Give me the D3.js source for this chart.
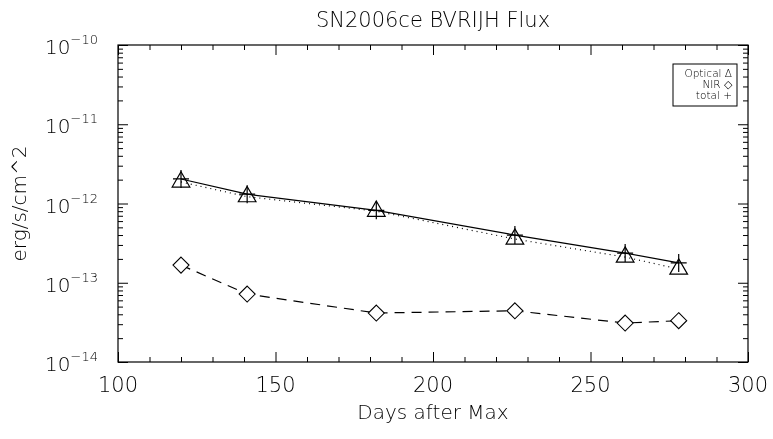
<!DOCTYPE html>
<html>
<head>
<meta charset="utf-8">
<script src="https://cdn.jsdelivr.net/npm/d3@7"></script>
<style>
  body { margin: 0; background: #fff; }
  svg { display: block; will-change: transform; }
  text { font-family: "DejaVu Sans", sans-serif; font-weight: 200; fill: #000; }
</style>
</head>
<body>
<div id="chart"></div>
<script>
// days after maximum
const days = [120, 141, 182, 226, 261, 278];
// fluxes in erg/s/cm^2
const optical = [1.87e-12, 1.22e-12, 8.0e-13, 3.56e-13, 2.11e-13, 1.49e-13];
const nir = [1.67e-13, 7.2e-14, 4.15e-14, 4.43e-14, 3.1e-14, 3.32e-14];
const total = [2.04e-12, 1.31e-12, 8.2e-13, 4.0e-13, 2.37e-13, 1.78e-13];
const xMajor = [100, 150, 200, 250, 300];
const yExponents = [-14, -13, -12, -11, -10];

const w = 773;
const h = 439;
const padL = 118, padR = 748, padT = 45, padB = 362;

const svg = d3.select('#chart').append('svg').attr('width', w).attr('height', h);

const xScale = d3.scaleLinear().domain([100, 300]).range([padL, padR]);
const yScale = d3.scaleLog().domain([1e-14, 1e-10]).range([padB, padT]);

const xMinor = d3.range(100, 301, 10).filter(d => d % 50 !== 0);
const yMinor = [];
yExponents.slice(0, -1).forEach(e => {
    for (let k = 2; k <= 9; k++) yMinor.push(k * Math.pow(10, e));
});

const axisStyle = g => {
    g.select('.domain').remove();
    g.selectAll('line').attr('stroke', '#000').attr('stroke-width', 1);
};

// x ticks, bottom and top
svg.append('g').attr('transform', 'translate(0,' + padB + ')')
    .call(d3.axisBottom(xScale).tickValues(xMajor).tickSize(-10).tickFormat(''))
    .call(axisStyle);
svg.append('g').attr('transform', 'translate(0,' + padB + ')')
    .call(d3.axisBottom(xScale).tickValues(xMinor).tickSize(-5).tickFormat(''))
    .call(axisStyle);
svg.append('g').attr('transform', 'translate(0,' + padT + ')')
    .call(d3.axisTop(xScale).tickValues(xMajor).tickSize(-10).tickFormat(''))
    .call(axisStyle);
svg.append('g').attr('transform', 'translate(0,' + padT + ')')
    .call(d3.axisTop(xScale).tickValues(xMinor).tickSize(-5).tickFormat(''))
    .call(axisStyle);

// y ticks, left and right
const yMajor = yExponents.map(e => Math.pow(10, e));
svg.append('g').attr('transform', 'translate(' + padL + ',0)')
    .call(d3.axisLeft(yScale).tickValues(yMajor).tickSize(-10).tickFormat(''))
    .call(axisStyle);
svg.append('g').attr('transform', 'translate(' + padL + ',0)')
    .call(d3.axisLeft(yScale).tickValues(yMinor).tickSize(-5).tickFormat(''))
    .call(axisStyle);
svg.append('g').attr('transform', 'translate(' + padR + ',0)')
    .call(d3.axisRight(yScale).tickValues(yMajor).tickSize(-10).tickFormat(''))
    .call(axisStyle);
svg.append('g').attr('transform', 'translate(' + padR + ',0)')
    .call(d3.axisRight(yScale).tickValues(yMinor).tickSize(-5).tickFormat(''))
    .call(axisStyle);

svg.append('rect')
    .attr('x', padL).attr('y', padT)
    .attr('width', padR - padL).attr('height', padB - padT)
    .attr('fill', 'none').attr('stroke', '#000').attr('stroke-width', 1.2);

// x tick labels
svg.selectAll('.xlab').data(xMajor).enter().append('text')
    .attr('class', 'xlab')
    .attr('x', d => xScale(d))
    .attr('y', padB + 30)
    .attr('text-anchor', 'middle')
    .attr('font-size', 21)
    .text(d => d);

// y tick labels 10^n
const ylab = svg.selectAll('.ylab').data(yExponents).enter().append('text')
    .attr('class', 'ylab')
    .attr('x', padL - 20)
    .attr('y', d => yScale(Math.pow(10, d)) + 9)
    .attr('text-anchor', 'end')
    .attr('font-size', 20);
ylab.append('tspan').text('10');
ylab.append('tspan').attr('dy', -10).attr('font-size', 13).text(d => '\u2212' + Math.abs(d));

// titles
svg.append('text')
    .attr('x', (padL + padR) / 2).attr('y', 27)
    .attr('text-anchor', 'middle').attr('font-size', 21)
    .text('SN2006ce BVRIJH Flux');
svg.append('text')
    .attr('x', (padL + padR) / 2).attr('y', 419)
    .attr('text-anchor', 'middle').attr('font-size', 20)
    .text('Days after Max');
svg.append('text')
    .attr('transform', 'translate(26,' + ((padT + padB) / 2) + ') rotate(-90)')
    .attr('text-anchor', 'middle').attr('font-size', 20)
    .text('erg/s/cm^2');

// lines
const line = vals => d3.line()
    .x((d, i) => xScale(days[i]))
    .y(d => yScale(d))(vals);

svg.append('path').attr('d', line(total))
    .attr('fill', 'none').attr('stroke', '#000').attr('stroke-width', 1.2);
svg.append('path').attr('d', line(optical))
    .attr('fill', 'none').attr('stroke', '#000').attr('stroke-width', 1.2)
    .attr('stroke-dasharray', '1,4');
svg.append('path').attr('d', line(nir))
    .attr('fill', 'none').attr('stroke', '#000').attr('stroke-width', 1.2)
    .attr('stroke-dasharray', '10,7');

// symbols
const tri = d3.symbol().type(d3.symbolTriangle).size(135);
svg.selectAll('.tri').data(optical).enter().append('path')
    .attr('class', 'tri')
    .attr('d', tri)
    .attr('transform', (d, i) => 'translate(' + xScale(days[i]) + ',' + yScale(d) + ')')
    .attr('fill', 'none').attr('stroke', '#000').attr('stroke-width', 1.2);

svg.selectAll('.dia').data(nir).enter().append('path')
    .attr('class', 'dia')
    .attr('d', 'M0,-8L8,0L0,8L-8,0Z')
    .attr('transform', (d, i) => 'translate(' + xScale(days[i]) + ',' + yScale(d) + ')')
    .attr('fill', '#fff').attr('stroke', '#000').attr('stroke-width', 1.1);

svg.selectAll('.plus').data(total).enter().append('path')
    .attr('class', 'plus')
    .attr('d', 'M-8,0H8M0,-9V9')
    .attr('transform', (d, i) => 'translate(' + xScale(days[i]) + ',' + yScale(d) + ')')
    .attr('fill', 'none').attr('stroke', '#000').attr('stroke-width', 1.2);

// legend
const legendItems = ['Optical \u0394', 'NIR \u25C7', 'total +'];
svg.append('rect')
    .attr('x', 673).attr('y', 64).attr('width', 64).attr('height', 42)
    .attr('fill', '#fff').attr('stroke', '#000').attr('stroke-width', 1);
svg.selectAll('.leg').data(legendItems).enter().append('text')
    .attr('class', 'leg')
    .attr('x', 732)
    .attr('y', (d, i) => 77 + i * 11)
    .attr('text-anchor', 'end')
    .attr('font-size', 10.5)
    .attr('font-weight', 500)
    .text(d => d);
</script>
</body>
</html>
